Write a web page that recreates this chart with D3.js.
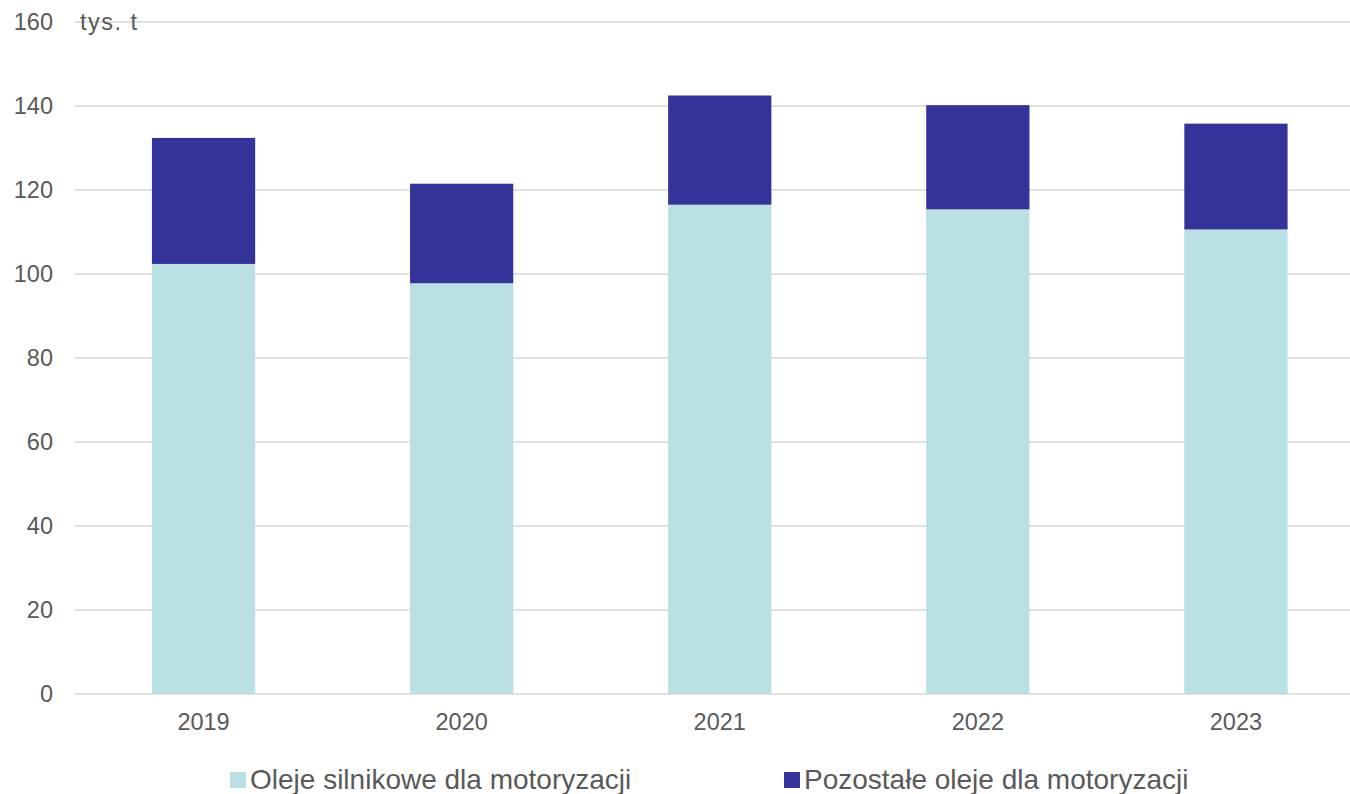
<!DOCTYPE html>
<html><head><meta charset="utf-8">
<script src="https://cdn.jsdelivr.net/npm/d3@7"></script>
<style>body{margin:0;background:#fff}svg{display:block;font-family:"Liberation Sans",Arial,sans-serif}</style>
</head><body><svg id="c" width="1350" height="794"></svg>
<script>
const years = ["2019","2020","2021","2022","2023"];
const silnikowe = [102.4, 97.8, 116.5, 115.4, 110.6];
const pozostale = [30.0, 23.7, 26.0, 24.8, 25.2];
const seriesNames = ["Oleje silnikowe dla motoryzacji","Pozostałe oleje dla motoryzacji"];
const colors = ["#BAE0E3","#353399"];
const yTicks = [0,20,40,60,80,100,120,140,160];
const unitLabel = "tys. t";

const svg = d3.select("#c");
const x = d3.scaleBand().domain(years).range([74.5,1365]).paddingInner(0.6).paddingOuter(0.3);
const y = d3.scaleLinear().domain([0,160]).range([694,22]);

const data = years.map((yr,i)=>({year:yr, s:silnikowe[i], p:pozostale[i]}));
const stack = d3.stack().keys(["s","p"])(data);

// grid
svg.append("g").selectAll("line").data(yTicks).join("line")
  .attr("x1",74.5).attr("x2",1365)
  .attr("y1",d=>y(d)).attr("y2",d=>y(d))
  .attr("stroke","#D9D9D9").attr("stroke-width",1.5);

// bars
svg.append("g").selectAll("g").data(stack).join("g")
  .attr("fill",(d,i)=>colors[i])
  .selectAll("rect").data(d=>d).join("rect")
  .attr("x",d=>x(d.data.year)).attr("width",x.bandwidth())
  .attr("y",d=>y(d[1])).attr("height",d=>y(d[0])-y(d[1]));

// y labels
svg.append("g").selectAll("text").data(yTicks).join("text")
  .attr("x",53).attr("y",d=>y(d)).attr("dy","0.35em")
  .attr("text-anchor","end").attr("font-size",23.5).attr("fill","#595959")
  .text(d=>d);

svg.append("text").attr("x",80).attr("y",y(160)).attr("dy","0.35em")
  .attr("font-size",23.5).attr("fill","#595959")
  .attr("textLength",57).attr("lengthAdjust","spacing").text(unitLabel);

// x labels
svg.append("g").selectAll("text").data(years).join("text")
  .attr("x",d=>x(d)+x.bandwidth()/2).attr("y",730)
  .attr("text-anchor","middle").attr("font-size",23.5).attr("fill","#595959")
  .text(d=>d);

// legend
const legX = [230,784];
const lg = svg.append("g").selectAll("g").data(seriesNames).join("g")
  .attr("transform",(d,i)=>`translate(${legX[i]},0)`);
lg.append("rect").attr("x",0).attr("y",772).attr("width",16).attr("height",16)
  .attr("fill",(d,i)=>colors[i]);
lg.append("text").attr("x",20).attr("y",789).attr("font-size",28).attr("fill","#595959")
  .text(d=>d);
</script></body></html>
